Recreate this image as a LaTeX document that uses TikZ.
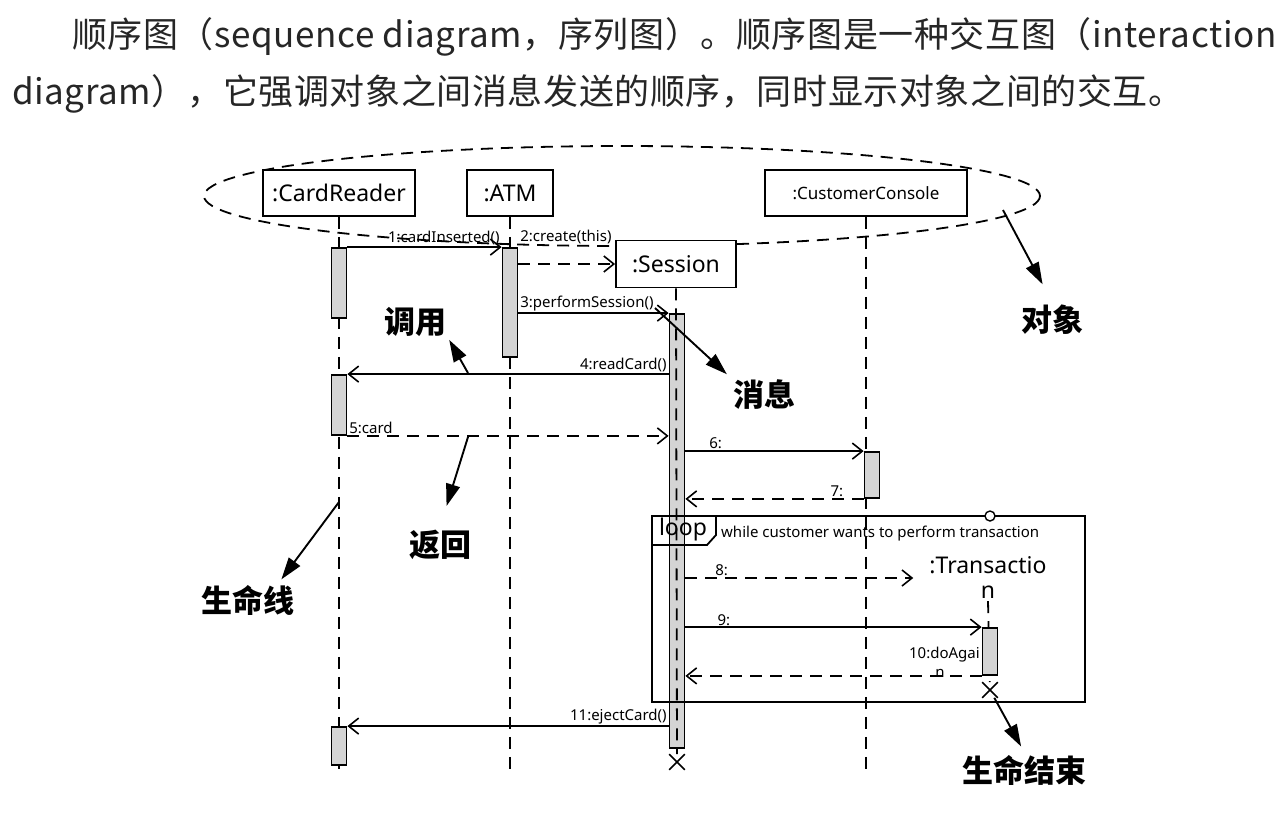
\documentclass[tikz,border=0pt]{standalone}
\usepackage{fontspec}
\setmainfont{Noto Sans}
\newfontfamily\cjk{Noto Sans CJK SC}
\newfontfamily\cjkwide[LetterSpace=1.7]{Noto Sans CJK SC}
\usetikzlibrary{arrows.meta,shapes.misc}
\tikzset{
  obj/.style={draw,fill=white,line width=1.8pt,minimum height=46pt,inner xsep=8pt,font=\fontsize{23}{23}\selectfont},
  act/.style={draw,fill=black!17,line width=1.8pt,minimum width=15pt,inner sep=0pt},
  life/.style={line width=1.8pt,dash pattern=on 12pt off 8pt},
  msg/.style={line width=1.8pt,-{Straight Barb[length=10pt,width=16pt,line width=1.6pt]}},
  ret/.style={msg,dash pattern=on 12pt off 8pt},
  lbl/.style={font=\fontsize{15}{15}\selectfont,inner sep=1pt},
  note/.style={font=\cjk\bfseries\fontsize{31}{31}\selectfont,inner sep=3pt},
  pointer/.style={line width=1.9pt,-{Triangle[length=22pt,width=14pt]}},
  endx/.style={draw,cross out,line width=1.6pt,minimum size=14pt,inner sep=0pt},
}
\begin{document}
\begin{tikzpicture}[x=1pt,y=-1pt]
        \useasboundingbox (0,0) rectangle (1288,815);
        %% Caption
        \node[anchor=base west,inner sep=0pt,text=black!85,font=\cjkwide\fontsize{35}{35}\selectfont] (line1) at (72,47) {顺序图（sequence diagram，序列图）。顺序图是一种交互图（interaction};
        \node[anchor=base west,inner sep=0pt,text=black!85,font=\cjkwide\fontsize{35}{35}\selectfont] (line2) at (12,104) {diagram），它强调对象之间消息发送的顺序，同时显示对象之间的交互。};
        %% Objects
        \draw[life] (622,196) ellipse [x radius=418,y radius=50];
        \node[obj,minimum width=152pt] (CR) at (339,193) {:CardReader};
        \node[obj,minimum width=86pt] (ATM) at (510,193) {:ATM};
        \node[obj,minimum width=202pt,font=\fontsize{17}{17}\selectfont] (CC) at (866,193) {:CustomerConsole};
        \node[align=center,inner sep=2pt,font=\fontsize{23}{25}\selectfont] (T) at (988,578) {:Transactio\\n};
        %% Lifelines
        \draw[life] (CR.south) -- ++(0,559);
        \draw[life] (ATM.south) -- ++(0,559);
        \draw[life] (CC.south) -- ++(0,559);
        \node[endx] (xT) at (990,690) {};
        \draw[life] (T.south) -- (xT);
        %% Activations
        \node[act,minimum height=70pt] (aCR1) at (339,283) {};
        \node[act,minimum height=60pt] (aCR2) at (339,405) {};
        \node[act,minimum height=38pt] (aCR3) at (339,746) {};
        \node[act,minimum height=109pt] (aATM) at (510,302.5) {};
        \node[act,minimum height=434pt] (aS) at (677,531) {};
        \node[act,minimum height=46pt] (aCC) at (872,475) {};
        \node[act,minimum height=47pt] (aT) at (990,651.5) {};
        \node[obj,minimum width=120pt,minimum height=47pt] (S) at (676,264) {:Session};
        \node[endx] (xS) at (677,762) {};
        \draw[life] (S.south) -- (xS);
        %% Messages
        \draw[msg] (aCR1.north east) -- (aATM.north west) node[lbl,pos=1,above left] {1:cardInserted()};
        \draw[ret] (aATM.east |- S.west) -- (S.west) node[lbl,pos=0,above right,yshift=18pt] {2:create(this)};
        \draw[msg] (aS.north west -| aATM.east) -- (aS.north west) node[lbl,pos=0,above right] {3:performSession()};
        \draw[msg] (aCR2.north east -| aS.west) -- (aCR2.north east) node[lbl,pos=0,above left] {4:readCard()};
        \draw[ret] (aCR2.south east) -- (aCR2.south east -| aS.west) node[lbl,pos=0,above right] {5:card};
        \draw[msg] (aCC.north west -| aS.east) -- (aCC.north west) node[lbl,pos=0.17,above] {6:};
        \draw[ret] (aCC.south west) -- (aCC.south west -| aS.east) node[lbl,pos=0.15,above] {7:};
        %% Loop
        \draw[line width=1.8pt] (652,516) rectangle (1085,702);
        \node[font=\fontsize{23}{23}\selectfont,inner sep=0pt] (loopTag) at (683,530) {loop};
        \draw[line width=1.8pt] (652,545) -- (707,545) -- (716,535) -- (716,516);
        \node[lbl,anchor=west] (guard) at (720,534) {while customer wants to perform transaction};
        \node[draw,circle,fill=white,line width=1.4pt,minimum size=10pt,inner sep=0pt] (tc) at (990,516) {};
        \draw[ret,shorten >=14pt] (T.west -| aS.east) -- (T.west) node[lbl,pos=0.15,above] {8:};
        \draw[msg] (aT.north west -| aS.east) -- (aT.north west) node[lbl,pos=0.13,above] {9:};
        \draw[ret] (aT.south west) -- (aT.south west -| aS.east) node[lbl,pos=0,above left,yshift=12pt] {10:doAgai};
        \node[lbl] (n10) at (940,673) {n};
        \draw[msg] (aCR3.north east -| aS.west) -- (aCR3.north east) node[lbl,pos=0,above left] {11:ejectCard()};
        %% Notes
        \node[note] (nCall) at (415,322) {调用};
        \node[note] (nMsg) at (764,395) {消息};
        \node[note] (nRet) at (440,545) {返回};
        \node[note] (nLife) at (248,600) {生命线};
        \node[note] (nObj) at (1052,320) {对象};
        \node[note] (nEnd) at (1024,770) {生命结束};
        \coordinate (pCall) at (468,373);
        \coordinate (pMsg) at (655,308);
        \coordinate (pRet) at (468,437);
        \coordinate (pLife) at (339,502);
        \coordinate (pObj) at (1003,210);
        \draw[pointer] (pCall) -- (nCall.south east);
        \draw[pointer,shorten >=4pt] (pMsg) -- (nMsg.north west);
        \draw[pointer,shorten >=22pt] (pRet) -- (nRet.north);
        \draw[pointer,shorten >=3pt] (pLife) -- (nLife.30);
        \draw[pointer,shorten >=20pt] (pObj) -- (nObj.north);
        \draw[pointer,shorten >=6pt] (xT) -- (nEnd.north);
    \end{tikzpicture}
\end{document}
